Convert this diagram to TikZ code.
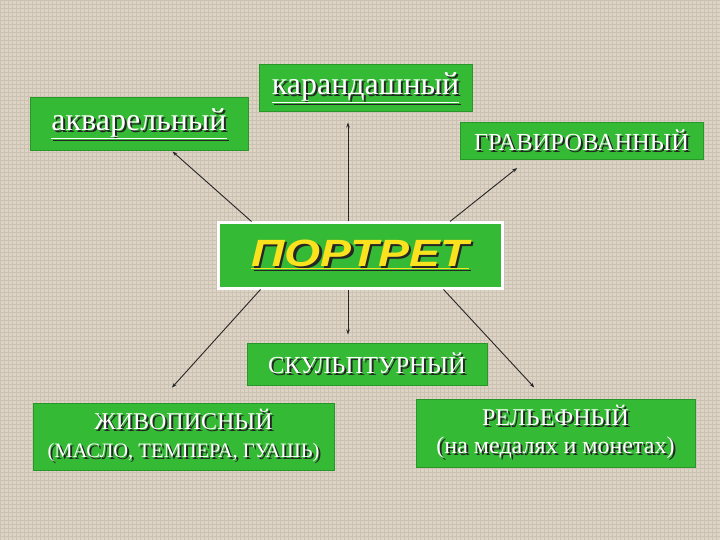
\documentclass[tikz,border=0pt]{standalone}
\usepackage{fontspec}
\setmainfont{Liberation Serif}
\newfontfamily\titlefont{Liberation Sans}
\usetikzlibrary{arrows.meta}
\definecolor{bgbeige}{RGB}{222,212,197}
\definecolor{bgweave}{RGB}{204,194,179}
\definecolor{boxgreen}{RGB}{52,186,52}
\definecolor{edgegreen}{RGB}{40,150,40}
\definecolor{titleyellow}{RGB}{250,226,30}
\newcommand{\shtext}[2][black!85]{\leavevmode\rlap{\kern2pt\raisebox{-2pt}{\color{#1}#2}}#2}

\begin{document}
\begin{tikzpicture}[x=1pt, y=-1pt]
\tikzstyle{boxStyle}=[rectangle, fill=boxgreen, draw=edgegreen, line width=1pt, inner sep=0pt, text=white, align=center]
\tikzstyle{titleStyle}=[boxStyle, draw=white, line width=3pt, text=titleyellow]
\tikzstyle{arrowStyle}=[draw=black!85, line width=0.9pt, -{Stealth[length=5pt, width=3.5pt]}]
\useasboundingbox (0,0) rectangle (720,540);
\fill[bgbeige] (0,0) rectangle (720,540);
\draw[bgweave, line width=0.4pt, step=4pt] (0,0) grid (720,540);
\node[titleStyle, minimum width=284pt, minimum height=65pt] (port) at (360,255.5)
  {\titlefont\bfseries\itshape\fontsize{38}{40}\selectfont\scalebox{1.22}[1]{\shtext[black!85]{\underline{ПОРТРЕТ}}}};
\node[boxStyle, minimum width=218pt, minimum height=53pt, font=\fontsize{32}{34}\selectfont] (akv) at (139,124.5)
  {\shtext{\underline{акварельный}}};
\node[boxStyle, minimum width=213pt, minimum height=47pt, font=\fontsize{32}{34}\selectfont] (kar) at (365.5,88.5)
  {\shtext{\underline{карандашный}}};
\node[boxStyle, minimum width=243pt, minimum height=37pt, font=\fontsize{24.5}{26}\selectfont] (grav) at (581.5,141.5)
  {\shtext{ГРАВИРОВАННЫЙ}};
\node[boxStyle, minimum width=240pt, minimum height=42pt, font=\fontsize{24.5}{26}\selectfont] (skul) at (367,364)
  {\shtext{СКУЛЬПТУРНЫЙ}};
\node[boxStyle, minimum width=301pt, minimum height=67pt, font=\fontsize{24}{28}\selectfont] (zhiv) at (183.5,436.5)
  {\shtext{ЖИВОПИСНЫЙ}\\\shtext{\fontsize{20.5}{28}\selectfont(МАСЛО, ТЕМПЕРА, ГУАШЬ)}};
\node[boxStyle, minimum width=279pt, minimum height=68pt, font=\fontsize{24}{28}\selectfont] (rel) at (555.5,433)
  {\shtext{РЕЛЬЕФНЫЙ}\\\shtext{(на медалях и монетах)}};
\draw[arrowStyle] ([xshift=35pt]port.north west) -- ([xshift=143pt]akv.south west);
\draw[arrowStyle, shorten >=10pt] ([xshift=-12pt]port.north) -- ([xshift=-12pt]port.north |- kar.south);
\draw[arrowStyle, shorten >=12pt] ([xshift=90pt]port.north) -- ([xshift=67pt]grav.south west);
\draw[arrowStyle, shorten >=8pt] ([xshift=-12pt]port.south) -- ([xshift=-12pt]port.south |- skul.north);
\draw[arrowStyle, shorten >=20pt] ([xshift=44pt]port.south west) -- ([xshift=126pt]zhiv.north west);
\draw[arrowStyle, shorten >=15pt] ([xshift=-60pt]port.south east) -- ([xshift=129pt]rel.north west);
\end{tikzpicture}
\end{document}
